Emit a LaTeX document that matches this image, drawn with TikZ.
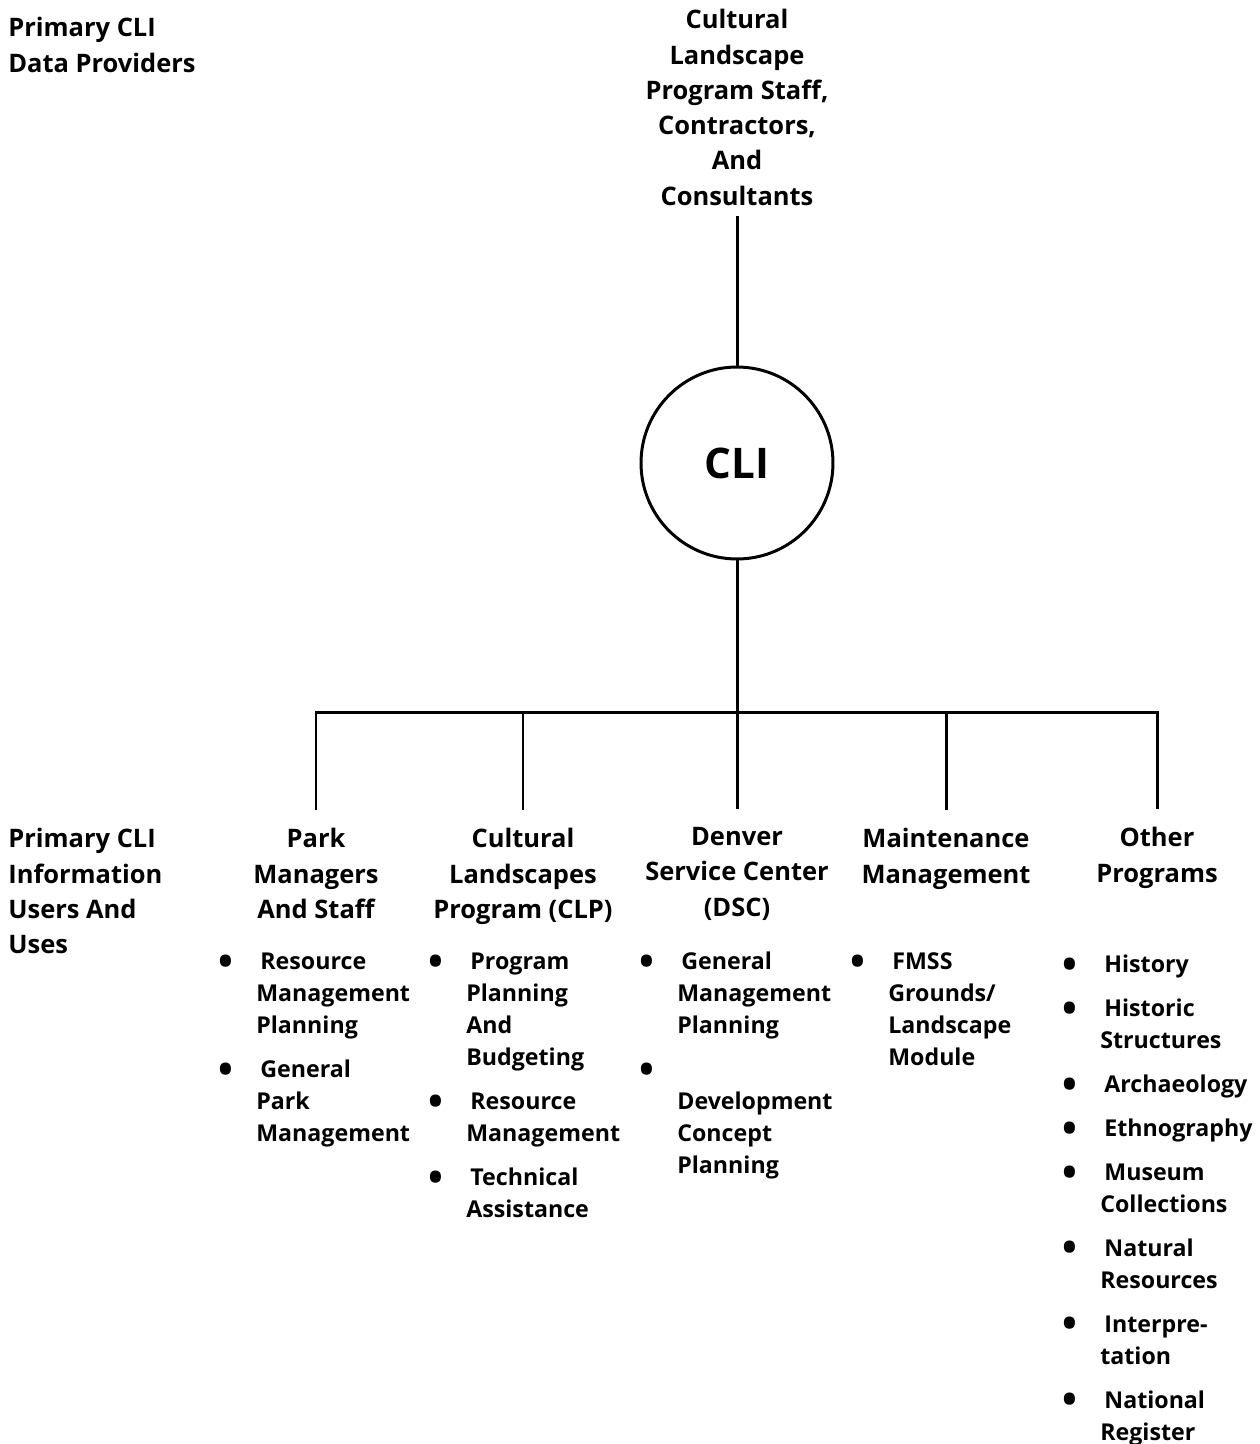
\documentclass[tikz,border=0pt]{standalone}
\usepackage{fontspec}
\usepackage{graphicx}
\setmainfont{Open Sans}
\usetikzlibrary{positioning}

\newcommand\blt{\makebox[0.6cm][l]{\hspace{-4.5pt}\raisebox{-3.2pt}{\scalebox{1.7}{\textbullet}}}}
\newcommand\gap{\\[6.8pt]}

\tikzset{
  hdr/.style={align=center, inner sep=0pt, anchor=north,
    font=\bfseries\fontsize{14.5}{20.1}\selectfont},
  sidelabel/.style={align=left, inner sep=0pt, anchor=north west,
    font=\bfseries\fontsize{14.5}{20.1}\selectfont},
  items/.style={inner sep=0pt, anchor=north west,
    font=\bfseries\fontsize{13.2}{18.2}\selectfont},
  hub/.style={circle, draw, line width=1.7pt, minimum size=3.84cm, inner sep=0pt,
    font=\bfseries\fontsize{24}{30}\selectfont},
  link/.style={line width=1.7pt}
}

\begin{document}
\begin{tikzpicture}[x=0.02cm,y=-0.02cm]
\useasboundingbox (0,0) rectangle (1259,1444);

% providers
\node[sidelabel] (provlbl) at (8,17) {Primary CLI\\Data Providers};
\node[hdr] (prov) at (737,9) {Cultural\\Landscape\\Program Staff,\\Contractors,\\And\\Consultants};

% hub
\node[hub] (cli) at (737,463) {CLI};
\coordinate (j) at (737,712);

% users
\node[sidelabel] (userlbl) at (8,828) {Primary CLI\\Information\\Users And\\Uses};
\node[hdr] (park) at (316,828) {Park\\Managers\\And Staff};
\node[hdr] (clp) at (523,828) {Cultural\\Landscapes\\Program (CLP)};
\node[hdr] (dsc) at (737,827) {Denver\\Service Center\\(DSC)};
\node[hdr] (mm) at (946,828) {Maintenance\\Management};
\node[hdr] (other) at (1157,827) {Other\\Programs};

% connectors
\draw[link, shorten <=5.7pt] (prov) -- (cli);
\draw[link] (cli) -- (j);
\draw[link, shorten <=10pt, shorten >=10pt] (park.north) -- (park.north |- j) -- (other.north |- j) -- (other.north);
\foreach \n in {clp,dsc,mm}
  \draw[link, shorten >=10pt] (\n.north |- j) -- (\n.north);

% uses
\node[items] (parkuses) at (226,947) {\begin{tabular}{@{}l@{}l@{}}
\blt & \hspace{2.3pt}Resource\\ & Management\\ & Planning\gap
\blt & \hspace{2.3pt}General\\ & Park\\ & Management
\end{tabular}};
\node[items] (clpuses) at (436,947) {\begin{tabular}{@{}l@{}l@{}}
\blt & \hspace{2.3pt}Program\\ & Planning\\ & And\\ & Budgeting\gap
\blt & \hspace{2.3pt}Resource\\ & Management\gap
\blt & \hspace{2.3pt}Technical\\ & Assistance
\end{tabular}};
\node[items] (dscuses) at (647,947) {\begin{tabular}{@{}l@{}l@{}}
\blt & \hspace{2.3pt}General\\ & Management\\ & Planning\gap
\blt & \\ & Development\\ & Concept\\ & Planning
\end{tabular}};
\node[items] (mmuses) at (858,947) {\begin{tabular}{@{}l@{}l@{}}
\blt & \hspace{2.3pt}FMSS\\ & Grounds/\\ & Landscape\\ & Module
\end{tabular}};
\node[items] (otheruses) at (1070,950) {\begin{tabular}{@{}l@{}l@{}}
\blt & \hspace{2.3pt}History\gap
\blt & \hspace{2.3pt}Historic\\ & Structures\gap
\blt & \hspace{2.3pt}Archaeology\gap
\blt & \hspace{2.3pt}Ethnography\gap
\blt & \hspace{2.3pt}Museum\\ & Collections\gap
\blt & \hspace{2.3pt}Natural\\ & Resources\gap
\blt & \hspace{2.3pt}Interpre-\\ & tation\gap
\blt & \hspace{2.3pt}National\\ & Register
\end{tabular}};
\end{tikzpicture}
\end{document}
